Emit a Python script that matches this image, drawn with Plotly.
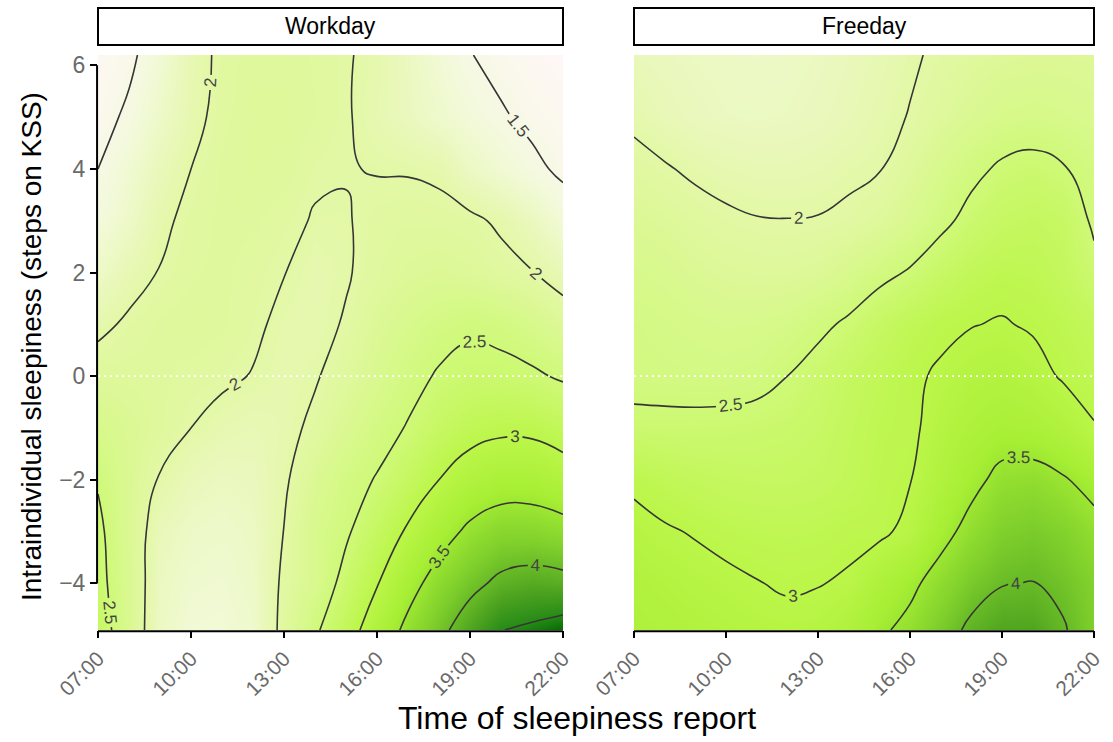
import plotly.graph_objects as go

# ---------------- data ----------------
hours = list(range(7, 23))
kss = [-4.9, -4, -3, -2, -1, 0, 1, 2, 3, 4, 5, 6.2]
hour_ticks = [7, 10, 13, 16, 19, 22]
hour_labels = ["07:00", "10:00", "13:00", "16:00", "19:00", "22:00"]
kss_ticks = [-4, -2, 0, 2, 4, 6]
kss_labels = ["\u22124", "\u22122", "0", "2", "4", "6"]
panels = ["Workday", "Freeday"]

# predicted sleepiness, rows = kss (bottom to top), cols = hours 07..22
workday = [
    [2.72, 2.22, 1.78, 1.65, 1.64, 1.72, 2.08, 2.44, 2.82, 3.22, 3.60, 3.90, 4.20, 4.49, 4.57, 4.68],
    [2.62, 2.22, 1.80, 1.70, 1.68, 1.75, 2.05, 2.25, 2.62, 2.98, 3.35, 3.67, 3.90, 4.08, 4.15, 4.12],
    [2.58, 2.19, 1.85, 1.76, 1.73, 1.78, 2.005, 2.28, 2.45, 2.75, 3.05, 3.33, 3.58, 3.72, 3.72, 3.65],
    [2.47, 2.20, 1.98, 1.85, 1.80, 1.83, 1.96, 2.20, 2.38, 2.52, 2.75, 3.00, 3.20, 3.30, 3.30, 3.20],
    [2.30, 2.20, 2.10, 2.00, 1.92, 1.88, 1.93, 2.05, 2.22, 2.38, 2.52, 2.72, 2.86, 2.93, 2.92, 2.82],
    [2.12, 2.12, 2.10, 2.07, 2.04, 1.99, 1.93, 1.98, 2.10, 2.25, 2.40, 2.53, 2.60, 2.60, 2.55, 2.46],
    [1.94, 2.04, 2.10, 2.12, 2.10, 2.04, 1.95, 1.93, 2.02, 2.17, 2.28, 2.38, 2.45, 2.40, 2.30, 2.15],
    [1.75, 1.90, 2.01, 2.08, 2.10, 2.06, 2.005, 1.93, 1.98, 2.08, 2.15, 2.18, 2.15, 2.08, 2.01, 1.88],
    [1.60, 1.75, 1.95, 2.06, 2.10, 2.10, 2.05, 1.985, 1.985, 2.06, 2.08, 2.08, 2.05, 1.96, 1.82, 1.64],
    [1.50, 1.68, 1.85, 2.00, 2.10, 2.13, 2.12, 2.03, 2.01, 1.99, 1.985, 1.95, 1.78, 1.67, 1.56, 1.45],
    [1.40, 1.55, 1.75, 1.93, 2.07, 2.13, 2.13, 2.09, 2.02, 1.92, 1.82, 1.72, 1.62, 1.53, 1.44, 1.38],
    [1.35, 1.44, 1.66, 1.90, 2.05, 2.12, 2.12, 2.08, 2.02, 1.94, 1.80, 1.65, 1.51, 1.42, 1.35, 1.30],
]
freeday = [
    [3.25, 3.22, 3.18, 3.14, 3.10, 3.08, 3.10, 3.22, 3.44, 3.60, 3.85, 4.07, 4.20, 4.20, 4.03, 3.80],
    [3.20, 3.15, 3.10, 3.06, 3.01, 2.97, 2.99, 3.03, 3.25, 3.42, 3.65, 3.86, 3.985, 4.01, 3.92, 3.78],
    [3.10, 3.03, 2.98, 2.92, 2.89, 2.88, 2.89, 2.94, 2.94, 3.08, 3.38, 3.62, 3.80, 3.85, 3.78, 3.62],
    [2.94, 2.86, 2.80, 2.76, 2.74, 2.74, 2.77, 2.83, 2.92, 2.99, 3.20, 3.40, 3.60, 3.63, 3.53, 3.38],
    [2.585, 2.58, 2.58, 2.59, 2.61, 2.64, 2.70, 2.80, 2.90, 2.94, 3.12, 3.25, 3.33, 3.30, 3.20, 3.02],
    [2.40, 2.39, 2.38, 2.38, 2.41, 2.50, 2.62, 2.75, 2.85, 2.96, 3.03, 3.13, 3.17, 3.10, 2.97, 2.88],
    [2.38, 2.35, 2.31, 2.28, 2.29, 2.34, 2.43, 2.55, 2.72, 2.85, 2.95, 2.99, 3.02, 2.97, 2.90, 2.80],
    [2.30, 2.26, 2.20, 2.15, 2.13, 2.13, 2.17, 2.28, 2.41, 2.53, 2.70, 2.83, 2.90, 2.88, 2.78, 2.58],
    [2.20, 2.15, 2.09, 2.04, 2.01, 2.005, 2.01, 2.04, 2.12, 2.25, 2.42, 2.60, 2.72, 2.77, 2.72, 2.45],
    [2.08, 2.02, 1.96, 1.92, 1.90, 1.90, 1.92, 1.96, 1.99, 2.12, 2.28, 2.42, 2.55, 2.60, 2.52, 2.40],
    [1.95, 1.88, 1.83, 1.80, 1.79, 1.80, 1.83, 1.88, 1.94, 2.01, 2.12, 2.22, 2.30, 2.33, 2.30, 2.25],
    [1.85, 1.82, 1.79, 1.77, 1.76, 1.77, 1.80, 1.85, 1.90, 1.97, 2.04, 2.10, 2.15, 2.17, 2.17, 2.15],
]

# ---------------- style ----------------
W, H = 1113, 742
FONT = "Liberation Sans, Arial, Helvetica, sans-serif"
ZMIN, ZMAX = 1.3, 4.7
stops = [(1.3, "#fff7f7"), (1.6, "#f3f9dc"), (2.0, "#e3f8a6"), (2.5, "#cff978"),
         (3.0, "#bbf648"), (3.4, "#a6ee34"), (3.8, "#80d02c"), (4.2, "#50a520"),
         (4.5, "#268a17"), (4.7, "#006400")]
colorscale = [[(v - ZMIN) / (ZMAX - ZMIN), c] for v, c in stops]

px_top, px_bot = 55, 630
ydom = [(H - px_bot) / H, (H - px_top) / H]
xdoms = [[98 / W, 563 / W], [634 / W, 1094 / W]]

fig = go.Figure()
for i, (z, name) in enumerate(zip([workday, freeday], panels)):
    sfx = "" if i == 0 else "2"
    fig.add_trace(go.Contour(
        x=hours, y=kss, z=z, xaxis="x" + sfx, yaxis="y" + sfx,
        colorscale=colorscale, zmin=ZMIN, zmax=ZMAX, zauto=False, showscale=False,
        autocontour=False,
        contours=dict(start=1.5, end=4.5, size=0.5, coloring="heatmap",
                      showlabels=True,
                      labelfont=dict(size=17, color="#444444", family=FONT)),
        line=dict(color="#363636", width=1.6, smoothing=1.3),
        hoverinfo="skip",
    ))

axis_common = dict(showgrid=False, zeroline=False, showline=False, automargin=False)
layout = dict(
    width=W, height=H, margin=dict(l=0, r=0, t=0, b=0, autoexpand=False),
    paper_bgcolor="white", plot_bgcolor="white", showlegend=False,
    font=dict(family=FONT),
)
for i in range(2):
    sfx = "" if i == 0 else "2"
    layout["xaxis" + sfx] = dict(
        axis_common, domain=xdoms[i], range=[7, 22], anchor="y" + sfx,
        tickmode="array", tickvals=hour_ticks, ticktext=hour_labels,
        ticks="outside", ticklen=7, tickwidth=2, tickcolor="black",
        tickangle=-45, tickfont=dict(family=FONT, size=21, color="#6a6a6a"))
    layout["yaxis" + sfx] = dict(
        axis_common, domain=ydom, range=[-4.9, 6.2], anchor="x" + sfx,
        tickmode="array", tickvals=kss_ticks, ticktext=kss_labels,
        ticks="outside" if i == 0 else "", ticklen=7, tickwidth=2, tickcolor="black",
        showticklabels=(i == 0), tickfont=dict(family=FONT, size=23, color="#6a6a6a"))
fig.update_layout(**layout)

shapes = []
annotations = []
for i, name in enumerate(panels):
    sfx = "" if i == 0 else "2"
    # range-frame x axis line
    shapes.append(dict(type="line", xref="x" + sfx, yref="y" + sfx + " domain",
                       x0=7, x1=22, y0=-0.002, y1=-0.002,
                       line=dict(color="black", width=2)))
    # white dotted zero line
    shapes.append(dict(type="line", xref="x" + sfx + " domain", yref="y" + sfx,
                       x0=0, x1=1, y0=0, y1=0,
                       line=dict(color="white", width=1.6, dash="2px,4px")))
    # strip box
    shapes.append(dict(type="rect", xref="x" + sfx + " domain", yref="paper",
                       x0=0, x1=1, y0=1 - 45 / H, y1=1 - 8 / H,
                       line=dict(color="black", width=2), fillcolor="white"))
    annotations.append(dict(text=name, xref="x" + sfx + " domain", yref="paper",
                            x=0.5, y=1 - 26.5 / H, showarrow=False,
                            font=dict(family=FONT, size=23, color="black"),
                            xanchor="center", yanchor="middle"))
# range-frame y axis line (workday only)
shapes.append(dict(type="line", xref="x domain", yref="y",
                   x0=-0.002, x1=-0.002, y0=-4, y1=6,
                   line=dict(color="black", width=2)))

annotations.append(dict(text="Time of sleepiness report", xref="paper", yref="paper",
                        x=577 / W, y=1 - 718 / H, showarrow=False,
                        font=dict(family=FONT, size=32, color="black"),
                        xanchor="center", yanchor="middle"))
annotations.append(dict(text="Intraindividual sleepiness (steps on KSS)", xref="paper",
                        yref="paper", x=31 / W, y=1 - 347 / H, showarrow=False,
                        textangle=-90,
                        font=dict(family=FONT, size=28, color="black"),
                        xanchor="center", yanchor="middle"))
fig.update_layout(shapes=shapes, annotations=annotations)

fig.write_html("out.html",
               config={"displayModeBar": False},
               post_script="document.body.style.margin='0px';"
                           "document.body.style.overflow='hidden';")
